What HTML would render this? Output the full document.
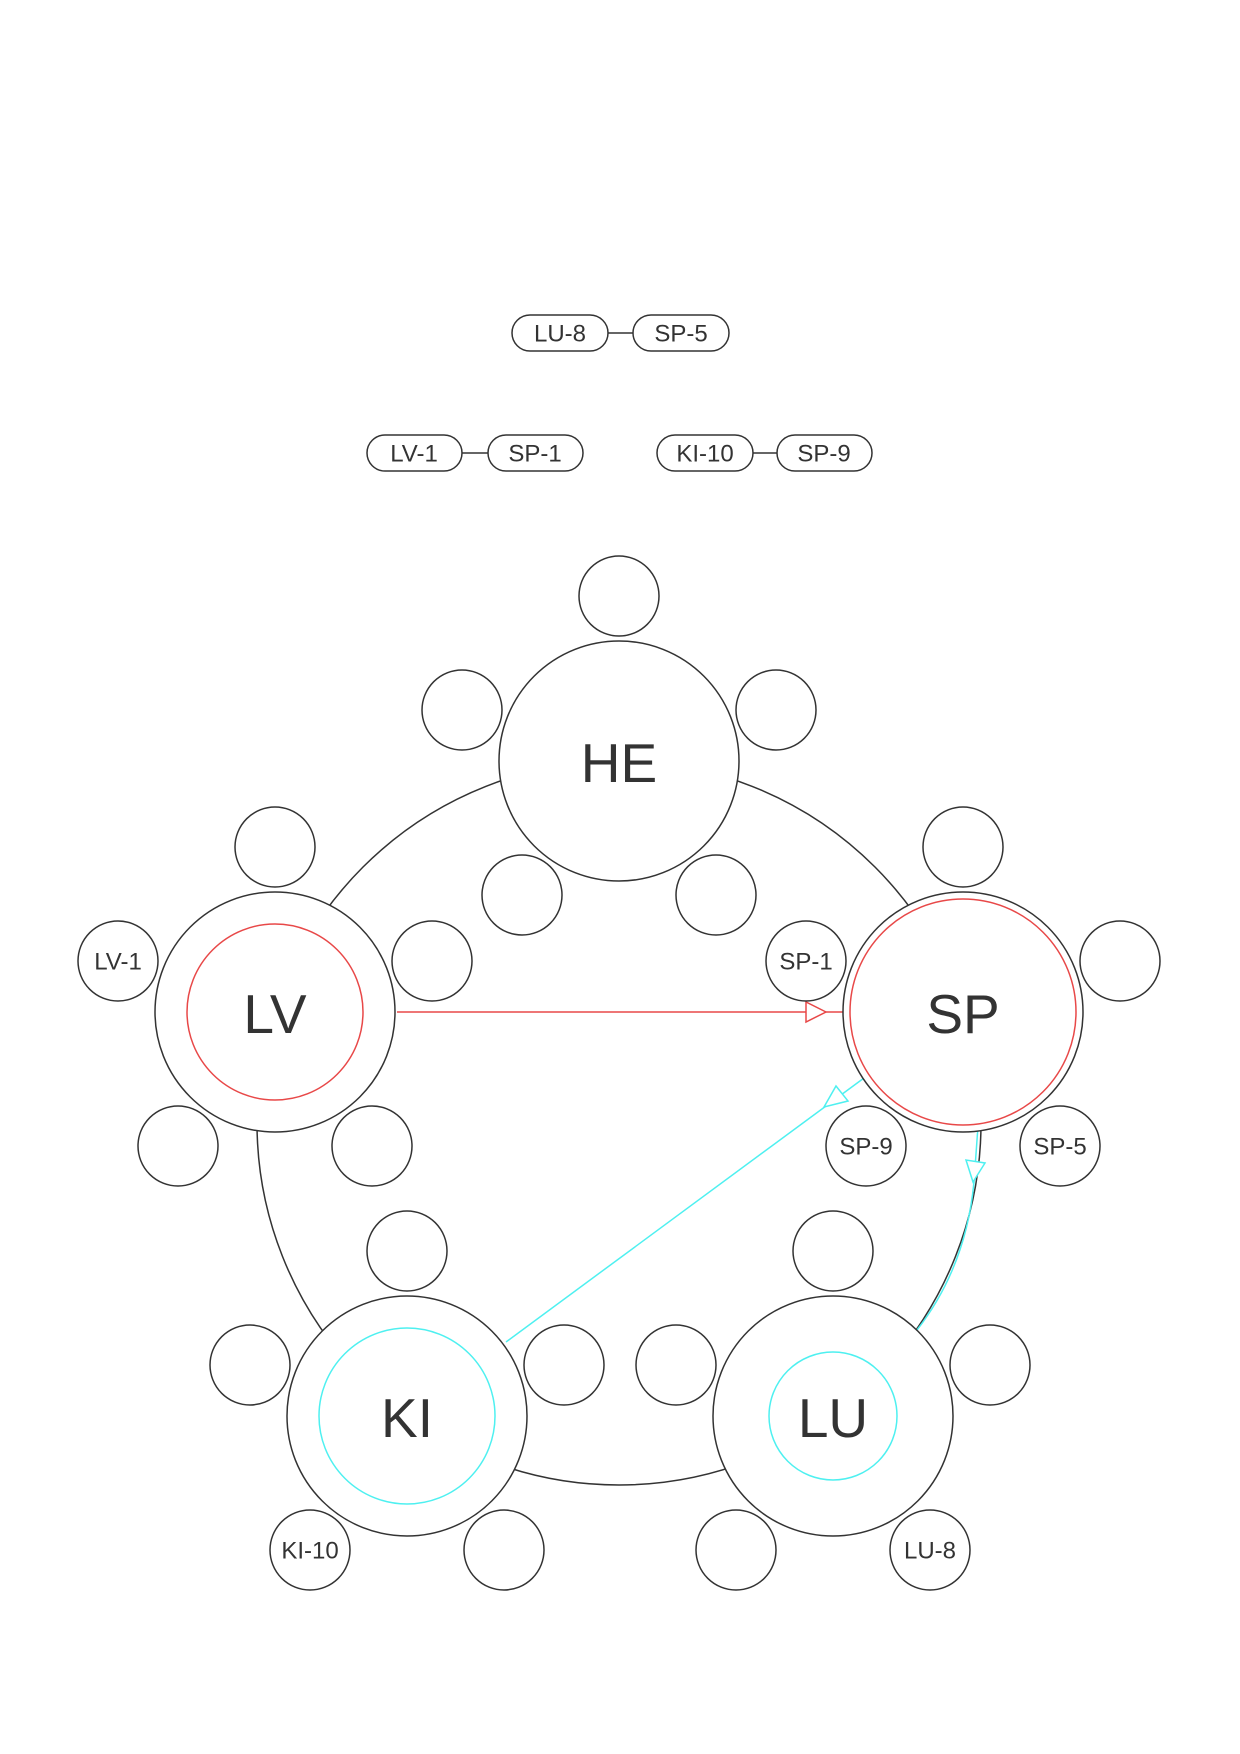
<!DOCTYPE html>
<html><head><meta charset="utf-8"><style>
html,body{margin:0;padding:0;background:#fff}
svg{display:block}
text{font-family:"Liberation Sans",Arial,sans-serif;fill:#333;text-anchor:middle;dominant-baseline:central}
</style></head><body>
<svg width="1240" height="1754" viewBox="0 0 1240 1754" xmlns="http://www.w3.org/2000/svg">
<g transform="translate(-2,-3)">
<g fill="#fff" stroke="#333" stroke-width="1.5">
<line x1="610" y1="336" x2="635" y2="336"/>
<rect x="514" y="318" width="96" height="36" rx="18"/>
<rect x="635" y="318" width="96" height="36" rx="18"/>
<line x1="464" y1="456" x2="490" y2="456"/>
<rect x="369" y="438" width="95" height="36" rx="18"/>
<rect x="490" y="438" width="95" height="36" rx="18"/>
<line x1="755" y1="456" x2="779" y2="456"/>
<rect x="659" y="438" width="96" height="36" rx="18"/>
<rect x="779" y="438" width="95" height="36" rx="18"/>
<circle cx="621" cy="1126" r="362" fill="none"/>
</g>
<g font-size="24">
<text x="562" y="337">LU-8</text><text x="683" y="337">SP-5</text>
<text x="416" y="457">LV-1</text><text x="537" y="457">SP-1</text>
<text x="707" y="457">KI-10</text><text x="826" y="457">SP-9</text>
</g>
<g fill="none" stroke-width="1.5">
<line x1="399" y1="1015" x2="850" y2="1015" stroke="#e84848"/>
<polygon points="828,1015 808,1005 808,1025" fill="#fff" stroke="#e84848"/>
<line x1="508" y1="1345" x2="866" y2="1081" stroke="#4ef0f0"/>
<polygon points="826,1110 838,1089 850,1104" fill="#fff" stroke="#4ef0f0"/>
<path d="M980,1129 L976,1185 Q968,1270 919,1333" stroke="#4ef0f0"/>
<polygon points="975,1185 968,1163 987,1166" fill="#fff" stroke="#4ef0f0"/>
</g>
<g fill="#fff" stroke="#333" stroke-width="1.5">
<circle cx="621" cy="764" r="120"/>
<circle cx="277" cy="1015" r="120"/>
<circle cx="965" cy="1015" r="120"/>
<circle cx="409" cy="1419" r="120"/>
<circle cx="835" cy="1419" r="120"/>
</g>
<g fill="none" stroke-width="1.5">
<circle cx="277" cy="1015" r="88" stroke="#e84848"/>
<circle cx="965" cy="1015" r="113" stroke="#e84848"/>
<circle cx="409" cy="1419" r="88" stroke="#4ef0f0"/>
<circle cx="835" cy="1419" r="64" stroke="#4ef0f0"/>
</g>
<g font-size="55">
<text x="621" y="766">HE</text><text x="277" y="1017">LV</text><text x="965" y="1017">SP</text>
<text x="409" y="1421">KI</text><text x="835" y="1421">LU</text>
</g>
<g fill="#fff" stroke="#333" stroke-width="1.5">
<circle cx="621" cy="599" r="40"/><circle cx="464" cy="713" r="40"/><circle cx="778" cy="713" r="40"/><circle cx="524" cy="898" r="40"/><circle cx="718" cy="898" r="40"/>
<circle cx="277" cy="850" r="40"/><circle cx="120" cy="964" r="40"/><circle cx="434" cy="964" r="40"/><circle cx="180" cy="1149" r="40"/><circle cx="374" cy="1149" r="40"/>
<circle cx="965" cy="850" r="40"/><circle cx="808" cy="964" r="40"/><circle cx="1122" cy="964" r="40"/><circle cx="868" cy="1149" r="40"/><circle cx="1062" cy="1149" r="40"/>
<circle cx="409" cy="1254" r="40"/><circle cx="252" cy="1368" r="40"/><circle cx="566" cy="1368" r="40"/><circle cx="312" cy="1553" r="40"/><circle cx="506" cy="1553" r="40"/>
<circle cx="835" cy="1254" r="40"/><circle cx="678" cy="1368" r="40"/><circle cx="992" cy="1368" r="40"/><circle cx="738" cy="1553" r="40"/><circle cx="932" cy="1553" r="40"/>
</g>
<g font-size="24">
<text x="120" y="965">LV-1</text><text x="808" y="965">SP-1</text>
<text x="868" y="1150">SP-9</text><text x="1062" y="1150">SP-5</text>
<text x="312" y="1554">KI-10</text><text x="932" y="1554">LU-8</text>
</g>
</g>
</svg>
</body></html>
